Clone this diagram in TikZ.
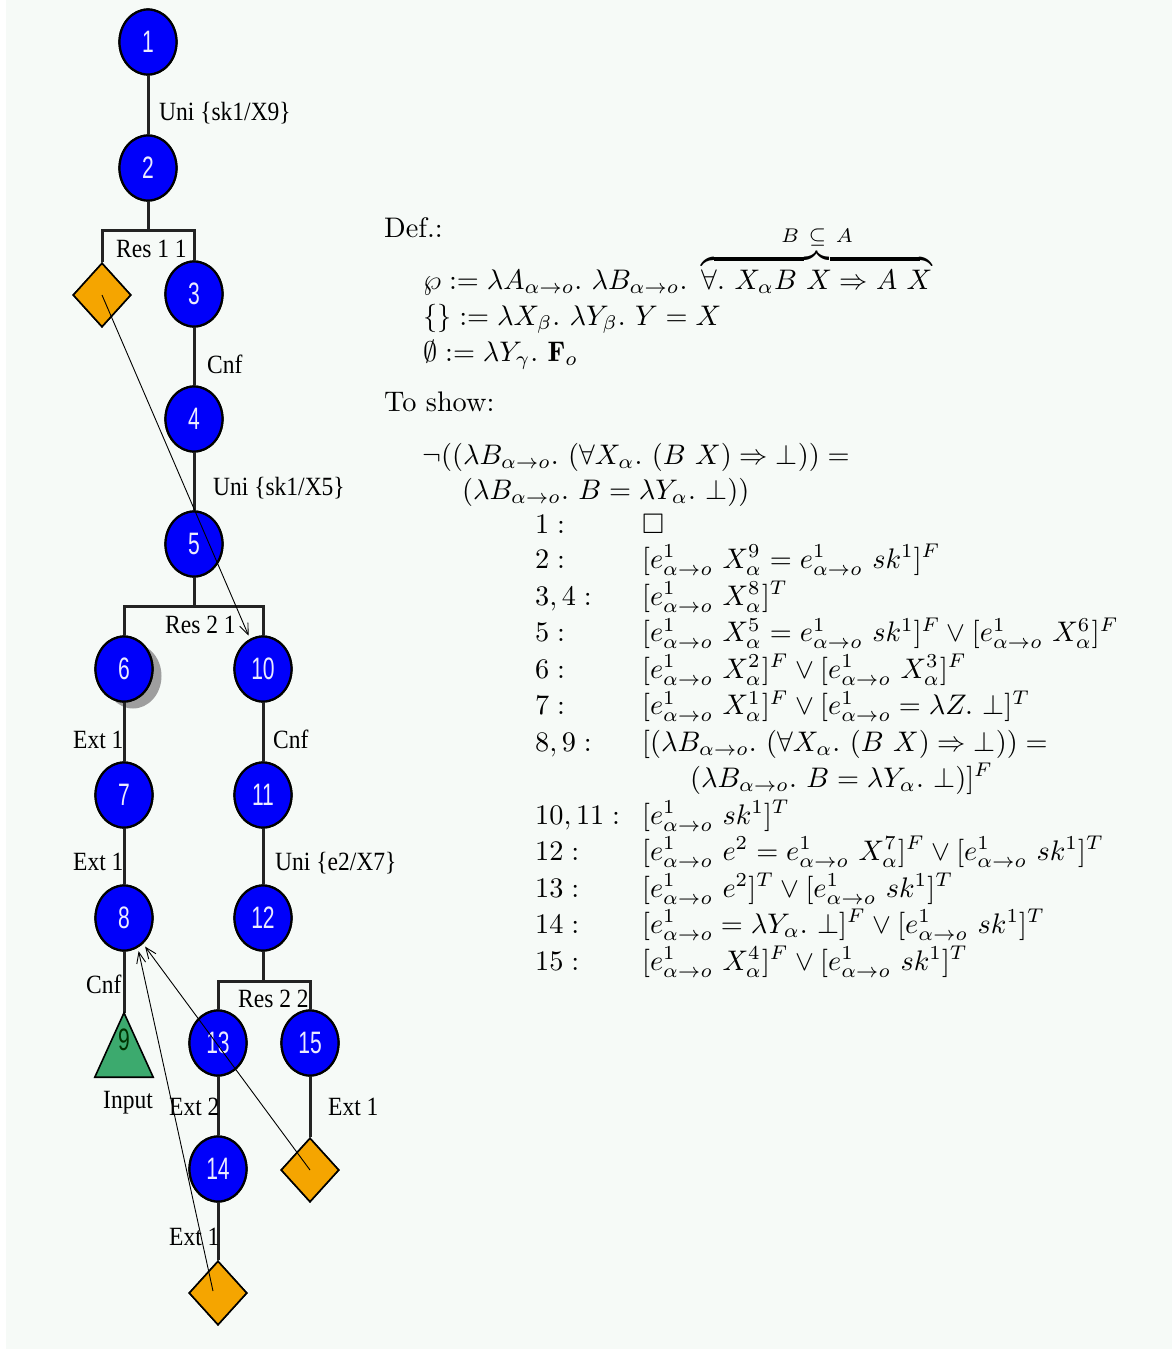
\documentclass[tikz,border=0pt]{standalone}
\usepackage{amssymb}
\usepackage{fontspec}
\newfontfamily\lblfont{Liberation Serif}
\newfontfamily\numfont{Liberation Sans}
\usetikzlibrary{shapes.geometric,arrows.meta,shadows}
\definecolor{bgc}{RGB}{246,250,247}
\definecolor{nodeblue}{RGB}{0,0,250}
\definecolor{dorange}{RGB}{245,165,0}
\definecolor{tgreen}{RGB}{60,170,110}
\definecolor{edgec}{RGB}{35,35,35}
\newcommand\nnum[1]{\scalebox{0.68}[1]{\fontsize{31}{31}\numfont #1}}
\newcommand\myeao{e^1_{\alpha\rightarrow o}}
\newcommand\myao{_{\alpha\rightarrow o}}
\newcommand\mysc[1]{\scalebox{2.83}{\fontsize{10}{12}\selectfont #1}}
\newcommand\mylb[1]{\scalebox{1}[1.12]{\fontsize{23.5}{28}\lblfont #1}}
\tikzset{
  cn/.style={ellipse, fill=nodeblue, draw=black, line width=2.2pt,
    minimum width=57pt, minimum height=65pt, inner sep=0pt, text=white!92!blue},
  dnode/.style={diamond, fill=dorange, draw=black, line width=1.6pt,
    minimum width=58pt, minimum height=64pt, inner sep=0pt},
  edge/.style={draw=edgec, line width=3pt},
  lbl/.style={anchor=base west, inner sep=0pt},
  mth/.style={anchor=base west, inner sep=0pt},
  ptr/.style={draw=black, line width=0.9pt, shorten >=3.5pt,
    -{Straight Barb[length=11pt,width=9pt]}},
}
\begin{document}
\begin{tikzpicture}[x=1pt,y=-1pt]
\useasboundingbox (0,0) rectangle (1172,1350);
\fill[white] (0,0) rectangle (1172,1350);
\fill[bgc] (6,0) rectangle (1172,1349);

% bracket joints
\coordinate (b1) at (148,230);
\coordinate (b2) at (194,606);
\coordinate (b3) at (263,981);

% nodes
\node[cn] (n1) at (148,42) {\nnum{1}};
\node[cn] (n2) at (148,168) {\nnum{2}};
\node[dnode] (d1) at (102,295) {};
\node[cn] (n3) at (194,294) {\nnum{3}};
\node[cn] (n4) at (194,419) {\nnum{4}};
\node[cn] (n5) at (194,544) {\nnum{5}};
\node[cn, drop shadow={shadow xshift=9pt, shadow yshift=-7pt, fill=black!38, opacity=1}] (n6) at (124,669) {\nnum{6}};
\node[cn] (n10) at (263,669) {\nnum{10}};
\node[cn] (n7) at (124,795) {\nnum{7}};
\node[cn] (n11) at (263,795) {\nnum{11}};
\node[cn] (n8) at (124,918) {\nnum{8}};
\node[cn] (n12) at (263,918) {\nnum{12}};
\node[inner sep=0pt, minimum width=58pt, minimum height=64pt] (n9) at (124,1045) {};
\node[cn] (n13) at (218,1043) {\nnum{13}};
\node[cn] (n15) at (310,1043) {\nnum{15}};
\node[cn] (n14) at (218,1169) {\nnum{14}};
\node[dnode] (d2) at (310,1170) {};
\node[dnode] (d3) at (218,1293) {};

% edges
\draw[edge] (n1) -- (n2);
\draw[edge] (n2.south) -- (b1);
\draw[edge] (d1.north) -- (d1.north |- b1) -- (n3.north |- b1) -- (n3.north);
\draw[edge] (n3) -- (n4);
\draw[edge] (n4) -- (n5);
\draw[edge] (n5.south) -- (b2);
\draw[edge] (n6.north) -- (n6.north |- b2) -- (n10.north |- b2) -- (n10.north);
\draw[edge] (n6) -- (n7);
\draw[edge] (n7) -- (n8);
\draw[edge] (n8.south) -- (n9.north);
\draw[edge] (n10) -- (n11);
\draw[edge] (n11) -- (n12);
\draw[edge] (n12.south) -- (b3);
\draw[edge] (n13.north) -- (n13.north |- b3) -- (n15.north |- b3) -- (n15.north);
\draw[edge] (n13) -- (n14);
\draw[edge] (n14) -- (d3);
\draw[edge] (n15) -- (d2);

% triangle 9
\draw[fill=tgreen, draw=black, line width=1.6pt, line join=miter]
  (n9.north) -- (n9.south east) -- (n9.south west) -- cycle;
\node[inner sep=0pt, text=black!80!green] (t9) at (124,1040) {\nnum{9}};

% redraw nodes on top of edges
\node[cn] at (n1) {\nnum{1}};
\node[cn] at (n2) {\nnum{2}};
\node[dnode] at (d1) {};
\node[cn] at (n3) {\nnum{3}};
\node[cn] at (n4) {\nnum{4}};
\node[cn] at (n5) {\nnum{5}};
\node[cn] at (n6) {\nnum{6}};
\node[cn] at (n10) {\nnum{10}};
\node[cn] at (n7) {\nnum{7}};
\node[cn] at (n11) {\nnum{11}};
\node[cn] at (n8) {\nnum{8}};
\node[cn] at (n12) {\nnum{12}};
\node[cn] at (n13) {\nnum{13}};
\node[cn] at (n15) {\nnum{15}};
\node[cn] at (n14) {\nnum{14}};
\node[dnode] at (d2) {};
\node[dnode] at (d3) {};

% edge labels
\node[lbl] (l1) at (159,120) {\mylb{Uni \{sk1/X9\}}};
\node[lbl] (l2) at (116,257) {\mylb{Res 1 1}};
\node[lbl] (l3) at (207,373) {\mylb{Cnf}};
\node[lbl] (l4) at (213,495) {\mylb{Uni \{sk1/X5\}}};
\node[lbl] (l5) at (165,633) {\mylb{Res 2 1}};
\node[lbl] (l6) at (73,748) {\mylb{Ext 1}};
\node[lbl] (l7) at (273,748) {\mylb{Cnf}};
\node[lbl] (l8) at (73,870) {\mylb{Ext 1}};
\node[lbl] (l9) at (275,870) {\mylb{Uni \{e2/X7\}}};
\node[lbl] (l10) at (86,993) {\mylb{Cnf}};
\node[lbl] (l11) at (238,1007) {\mylb{Res 2 2}};
\node[lbl] (l12) at (103,1108) {\mylb{Input}};
\node[lbl] (l13) at (169,1115) {\mylb{Ext 2}};
\node[lbl] (l14) at (328,1115) {\mylb{Ext 1}};
\node[lbl] (l15) at (169,1245) {\mylb{Ext 1}};

% pointer arrows
\draw[ptr] (d1.center) -- (n10);
\draw[ptr] (d2.center) -- (n8);
\draw[ptr] ([xshift=-5pt,yshift=2pt]d3.center) -- (n8.-65);

% right-hand text
\node[mth] (def) at (384,237) {\mysc{Def.:}};
\node[mth] (m1) at (423,289) {\mysc{$\wp := \lambda A\myao.\ \lambda B\myao.\ \overbrace{\forall.\ X_\alpha B\ X \Rightarrow A\ X}^{B\ \subseteq\ A}$}};
\node[mth] (m2) at (423,325) {\mysc{$\{\} := \lambda X_\beta.\ \lambda Y_\beta.\ Y = X$}};
\node[mth] (m3) at (423,361) {\mysc{$\emptyset := \lambda Y_\gamma.\ \mathbf{F}_o$}};
\node[mth] (show) at (384,411) {\mysc{To show:}};
\node[mth] (g1) at (422,464) {\mysc{$\neg((\lambda B\myao.\ (\forall X_\alpha.\ (B\ X) \Rightarrow \bot)) =$}};
\node[mth] (g2) at (462,499) {\mysc{$(\lambda B\myao.\ B = \lambda Y_\alpha.\ \bot))$}};

\node[mth] (k1) at (535,533) {\mysc{$1:$}};
\node[mth] (f1) at (642,533) {\mysc{$\square$}};
\node[mth] (k2) at (535,568) {\mysc{$2:$}};
\node[mth] (f2) at (642,568) {\mysc{$[\myeao\ X^9_\alpha = \myeao\ sk^1]^F$}};
\node[mth] (k3) at (535,605) {\mysc{$3,4:$}};
\node[mth] (f3) at (642,605) {\mysc{$[\myeao\ X^8_\alpha]^T$}};
\node[mth] (k5) at (535,641.5) {\mysc{$5:$}};
\node[mth] (f5) at (642,641.5) {\mysc{$[\myeao\ X^5_\alpha = \myeao\ sk^1]^F \vee [\myeao\ X^6_\alpha]^F$}};
\node[mth] (k6) at (535,678) {\mysc{$6:$}};
\node[mth] (f6) at (642,678) {\mysc{$[\myeao\ X^2_\alpha]^F \vee [\myeao\ X^3_\alpha]^F$}};
\node[mth] (k7) at (535,714.5) {\mysc{$7:$}};
\node[mth] (f7) at (642,714.5) {\mysc{$[\myeao\ X^1_\alpha]^F \vee [\myeao = \lambda Z.\ \bot]^T$}};
\node[mth] (k8) at (535,751) {\mysc{$8,9:$}};
\node[mth] (f8) at (642,751) {\mysc{$[(\lambda B\myao.\ (\forall X_\alpha.\ (B\ X) \Rightarrow \bot)) =$}};
\node[mth] (f8b) at (690,787) {\mysc{$(\lambda B\myao.\ B = \lambda Y_\alpha.\ \bot)]^F$}};
\node[mth] (k10) at (535,824) {\mysc{$10,11:$}};
\node[mth] (f10) at (642,824) {\mysc{$[\myeao\ sk^1]^T$}};
\node[mth] (k12) at (535,860) {\mysc{$12:$}};
\node[mth] (f12) at (642,860) {\mysc{$[\myeao\ e^2 = \myeao\ X^7_\alpha]^F \vee [\myeao\ sk^1]^T$}};
\node[mth] (k13) at (535,897) {\mysc{$13:$}};
\node[mth] (f13) at (642,897) {\mysc{$[\myeao\ e^2]^T \vee [\myeao\ sk^1]^T$}};
\node[mth] (k14) at (535,933) {\mysc{$14:$}};
\node[mth] (f14) at (642,933) {\mysc{$[\myeao = \lambda Y_\alpha.\ \bot]^F \vee [\myeao\ sk^1]^T$}};
\node[mth] (k15) at (535,970) {\mysc{$15:$}};
\node[mth] (f15) at (642,970) {\mysc{$[\myeao\ X^4_\alpha]^F \vee [\myeao\ sk^1]^T$}};
\end{tikzpicture}
\end{document}
